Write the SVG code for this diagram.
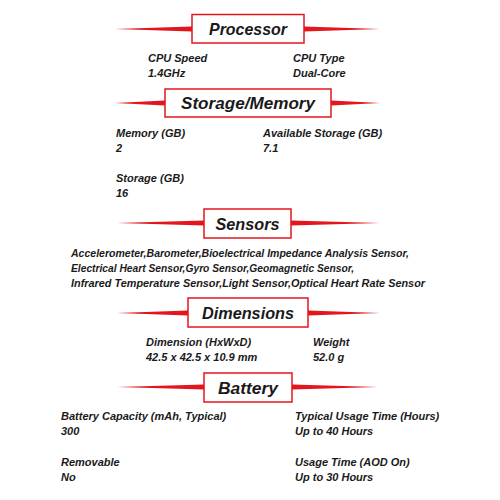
<svg xmlns="http://www.w3.org/2000/svg" width="500" height="500" viewBox="0 0 500 500">
<style>
.bg{fill:#fff}
.wing{fill:#e3161e}
.box{fill:#fff;stroke:#e3161e;stroke-width:1.5}
.h{font-family:"Liberation Sans",Arial,sans-serif;font-size:17px;font-weight:bold;font-style:italic;fill:#1a1a1a;text-anchor:middle}
.t{font-family:"Liberation Sans",Arial,sans-serif;font-size:11px;font-weight:bold;font-style:italic;fill:#1a1a1a}
</style>
<rect class="bg" width="500" height="500"/>
<g id="connectors">
<polygon class="wing" points="115,29 192,26.5 192,31.5"/>
<polygon class="wing" points="380,29 304,26.5 304,31.5"/>
<polygon class="wing" points="115,103 165,100.5 165,105.5"/>
<polygon class="wing" points="380,103 331,100.5 331,105.5"/>
<polygon class="wing" points="117,223 204,220.5 204,225.5"/>
<polygon class="wing" points="380,223 291,220.5 291,225.5"/>
<polygon class="wing" points="117,313 188,310.5 188,315.5"/>
<polygon class="wing" points="380,313 308,310.5 308,315.5"/>
<polygon class="wing" points="117,387 204,384.5 204,389.5"/>
<polygon class="wing" points="378,387 292,384.5 292,389.5"/>
</g>
<g id="processor">
<rect class="box" x="192" y="14.5" width="112" height="28.5"/>
<text class="h" x="248" y="35" textLength="78" lengthAdjust="spacingAndGlyphs">Processor</text>
<text class="t" x="148" y="62">CPU Speed</text>
<text class="t" x="148" y="77">1.4GHz</text>
<text class="t" x="293" y="62">CPU Type</text>
<text class="t" x="293" y="77">Dual-Core</text>
</g>
<g id="storage">
<rect class="box" x="165" y="89" width="166" height="28"/>
<text class="h" x="248" y="109" textLength="134" lengthAdjust="spacingAndGlyphs">Storage/Memory</text>
<text class="t" x="116" y="137">Memory (GB)</text>
<text class="t" x="116" y="152">2</text>
<text class="t" x="263" y="137">Available Storage (GB)</text>
<text class="t" x="263" y="152">7.1</text>
<text class="t" x="116" y="182">Storage (GB)</text>
<text class="t" x="116" y="197">16</text>
</g>
<g id="sensors">
<rect class="box" x="204" y="209" width="87" height="29"/>
<text class="h" x="247.5" y="230" textLength="64" lengthAdjust="spacingAndGlyphs">Sensors</text>
<text class="t" x="71" y="257" textLength="338" lengthAdjust="spacingAndGlyphs">Accelerometer,Barometer,Bioelectrical Impedance Analysis Sensor,</text>
<text class="t" x="71" y="272" textLength="283" lengthAdjust="spacingAndGlyphs">Electrical Heart Sensor,Gyro Sensor,Geomagnetic Sensor,</text>
<text class="t" x="71" y="287" textLength="354" lengthAdjust="spacingAndGlyphs">Infrared Temperature Sensor,Light Sensor,Optical Heart Rate Sensor</text>
</g>
<g id="dimensions">
<rect class="box" x="188" y="298" width="120" height="29"/>
<text class="h" x="248" y="319" textLength="92" lengthAdjust="spacingAndGlyphs">Dimensions</text>
<text class="t" x="146" y="346">Dimension (HxWxD)</text>
<text class="t" x="146" y="361">42.5 x 42.5 x 10.9 mm</text>
<text class="t" x="313" y="346">Weight</text>
<text class="t" x="313" y="361">52.0 g</text>
</g>
<g id="battery">
<rect class="box" x="204" y="373" width="88" height="29"/>
<text class="h" x="248" y="394" textLength="60" lengthAdjust="spacingAndGlyphs">Battery</text>
<text class="t" x="61" y="420">Battery Capacity (mAh, Typical)</text>
<text class="t" x="61" y="435">300</text>
<text class="t" x="295" y="420">Typical Usage Time (Hours)</text>
<text class="t" x="295" y="435">Up to 40 Hours</text>
<text class="t" x="61" y="466">Removable</text>
<text class="t" x="61" y="481">No</text>
<text class="t" x="295" y="466">Usage Time (AOD On)</text>
<text class="t" x="295" y="481">Up to 30 Hours</text>
</g>
</svg>
